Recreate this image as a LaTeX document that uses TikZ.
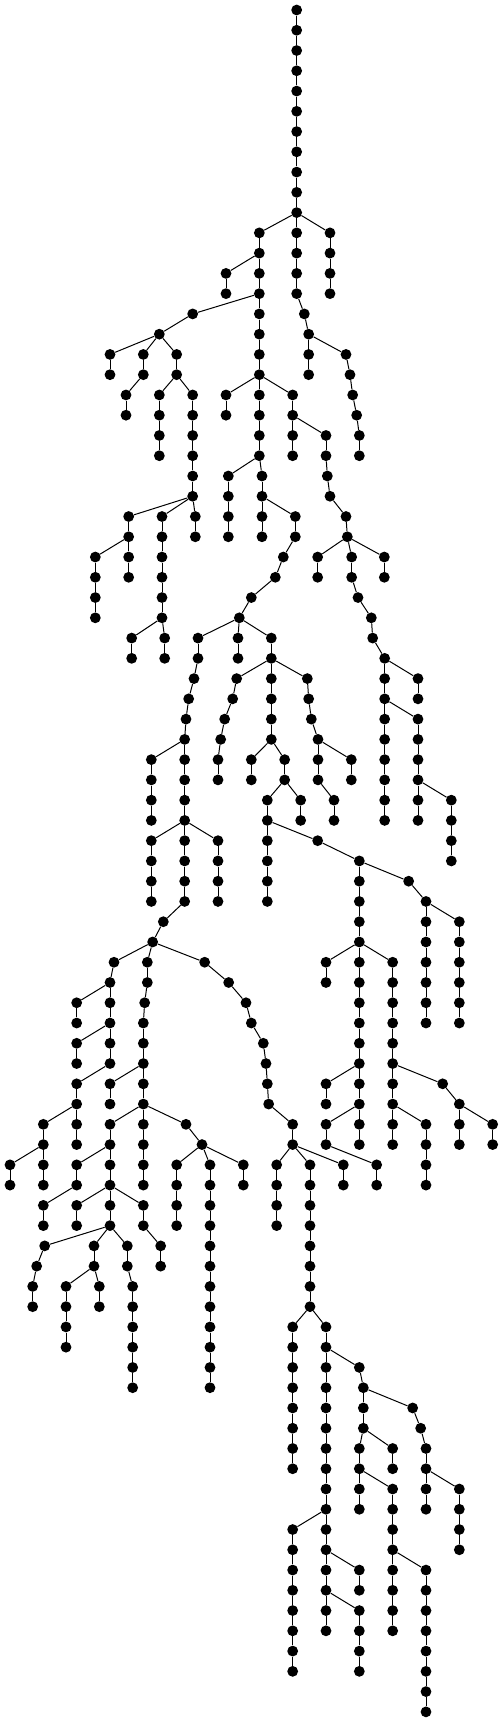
\documentclass[tikz,border=0pt]{standalone}
\tikzset{
  vtx/.style={circle,fill=black,draw=none,inner sep=0pt,minimum size=10.8pt},
  edge/.style={line width=1pt,black}
}
\begin{document}
\begin{tikzpicture}[x=0.333333pt,y=-20.26pt]
\useasboundingbox (0,-0.4936) rectangle (1509,84.55);
% vertical chains: x / first row / last row
\foreach \x/\a/\b in {
890/0/14, 778/11/22, 678/13/14, 990/11/14,
913/15/15, 926/16/18, 1038/17/17, 1050/18/18, 1058/19/19, 1070/20/20, 1078/21/22,
578/15/15, 478/16/16, 330/17/18, 430/17/18, 378/19/20, 530/17/18, 478/19/22, 578/19/24, 386/25/28, 286/27/30, 486/25/30, 395/31/32, 494/31/32, 586/25/26,
678/19/20, 878/19/22, 978/21/22, 982/23/23, 990/24/24, 1038/25/25, 1042/26/26, 953/27/28, 1153/27/28, 1055/27/28, 1074/29/29, 1114/30/30, 1118/31/31, 1154/32/40, 1254/33/34, 1254/35/40, 1354/39/42,
685/23/26, 786/23/26, 886/25/26, 850/27/27, 826/28/28, 754/29/29, 718/30/30, 594/31/32, 582/33/33, 566/34/34, 558/35/35, 554/36/44, 454/37/40, 454/41/44, 654/41/44, 490/45/45, 458/46/46,
714/31/32, 814/31/36, 710/33/33, 698/34/34, 674/35/35, 662/36/36, 654/37/38, 922/33/33, 926/34/34, 934/35/35, 954/36/38, 1054/37/38, 1002/39/40, 754/37/38, 854/37/38, 802/39/44, 902/39/40, 953/41/41, 1078/42/56, 1226/43/43, 1278/44/50, 1378/45/50, 978/47/48, 1178/47/56, 1278/55/58, 1328/53/53, 1378/54/56, 1478/55/56, 978/53/54, 978/55/56, 1130/57/58,
342/47/47, 330/48/52, 230/49/50, 230/51/52, 230/53/56, 130/55/58, 30/57/58, 442/47/48, 434/49/49, 430/50/58, 330/53/54, 330/55/60, 230/57/58, 130/59/60, 230/59/60, 430/59/60, 482/61/62, 134/61/61, 110/62/62, 98/63/64, 282/61/62, 198/63/66, 298/63/64, 382/61/62, 398/63/68, 558/55/55, 606/56/56, 530/57/60, 630/57/68, 730/57/58,
614/47/47, 686/48/48, 738/49/49, 754/50/50, 790/51/51, 798/52/52, 802/53/53, 806/54/54, 878/55/56, 830/57/60, 930/57/64, 1030/57/58, 878/65/72, 978/65/80, 878/75/82, 1078/77/78, 1078/79/82, 1078/67/67, 1090/68/70, 1238/69/69, 1262/70/70, 1278/71/74, 1378/73/76, 1078/71/74, 1178/73/80, 1278/77/84, 1178/71/72}{
  \node[vtx] (n\x r\a) at (\x,\a) {};
  \ifnum\a<\b
    \pgfmathtruncatemacro\s{\a+1}
    \foreach \r in {\s,...,\b}{
      \pgfmathtruncatemacro\q{\r-1}
      \node[vtx] (n\x r\r) at (\x,\r) {};
      \draw[edge] (n\x r\q) -- (n\x r\r);
    }
  \fi
}
% branch edges: parent x / parent row / child x (child on next row)
\foreach \p/\r/\c in {
890/10/778, 890/10/990, 778/12/678, 890/14/913, 913/15/926, 926/16/1038, 1038/17/1050, 1050/18/1058, 1058/19/1070, 1070/20/1078,
778/14/578, 578/15/478, 478/16/330, 478/16/430, 478/16/530, 430/18/378, 530/18/478, 530/18/578, 578/24/386, 578/24/486, 578/24/586, 386/26/286, 486/30/395, 486/30/494,
778/18/678, 778/18/878, 878/20/978, 978/22/982, 982/23/990, 990/24/1038, 1038/25/1042, 1042/26/953, 1042/26/1055, 1042/26/1153, 1055/28/1074, 1074/29/1114, 1114/30/1118, 1118/31/1154, 1154/32/1254, 1154/34/1254, 1254/38/1354,
778/22/685, 778/22/786, 786/24/886, 886/26/850, 850/27/826, 826/28/754, 754/29/718, 718/30/594, 718/30/714, 718/30/814, 594/32/582, 582/33/566, 566/34/558, 558/35/554, 554/36/454, 554/40/454, 554/40/654, 554/44/490, 490/45/458, 458/46/342, 458/46/442, 458/46/614,
814/32/710, 710/33/698, 698/34/674, 674/35/662, 662/36/654, 814/32/922, 922/33/926, 926/34/934, 934/35/954, 954/36/1054, 954/38/1002, 814/36/754, 814/36/854, 854/38/802, 854/38/902, 802/40/953, 953/41/1078, 1078/42/1226, 1226/43/1278, 1278/44/1378, 1078/46/978, 1078/46/1178, 1178/54/1278, 1178/52/1328, 1328/53/1378, 1378/54/1478, 1078/52/978, 1078/54/978, 978/56/1130,
342/47/330, 330/48/230, 330/50/230, 330/52/230, 230/54/130, 130/56/30, 442/48/434, 434/49/430, 430/52/330, 430/54/330, 330/56/230, 230/58/130, 330/58/230, 330/58/430, 430/60/482, 330/60/134, 134/61/110, 110/62/98, 330/60/282, 282/62/198, 282/62/298, 330/60/382, 382/62/398, 430/54/558, 558/55/606, 606/56/530, 606/56/630, 606/56/730,
614/47/686, 686/48/738, 738/49/754, 754/50/790, 790/51/798, 798/52/802, 802/53/806, 806/54/878, 878/56/830, 878/56/930, 878/56/1030, 930/64/878, 930/64/978, 978/74/878, 978/76/1078, 978/78/1078, 978/66/1078, 1078/67/1090, 1090/68/1238, 1238/69/1262, 1262/70/1278, 1278/72/1378, 1090/70/1078, 1078/72/1178, 1178/76/1278, 1090/70/1178}{
  \pgfmathtruncatemacro\s{\r+1}
  \draw[edge] (n\p r\r) -- (n\c r\s);
}
\end{tikzpicture}
\end{document}
